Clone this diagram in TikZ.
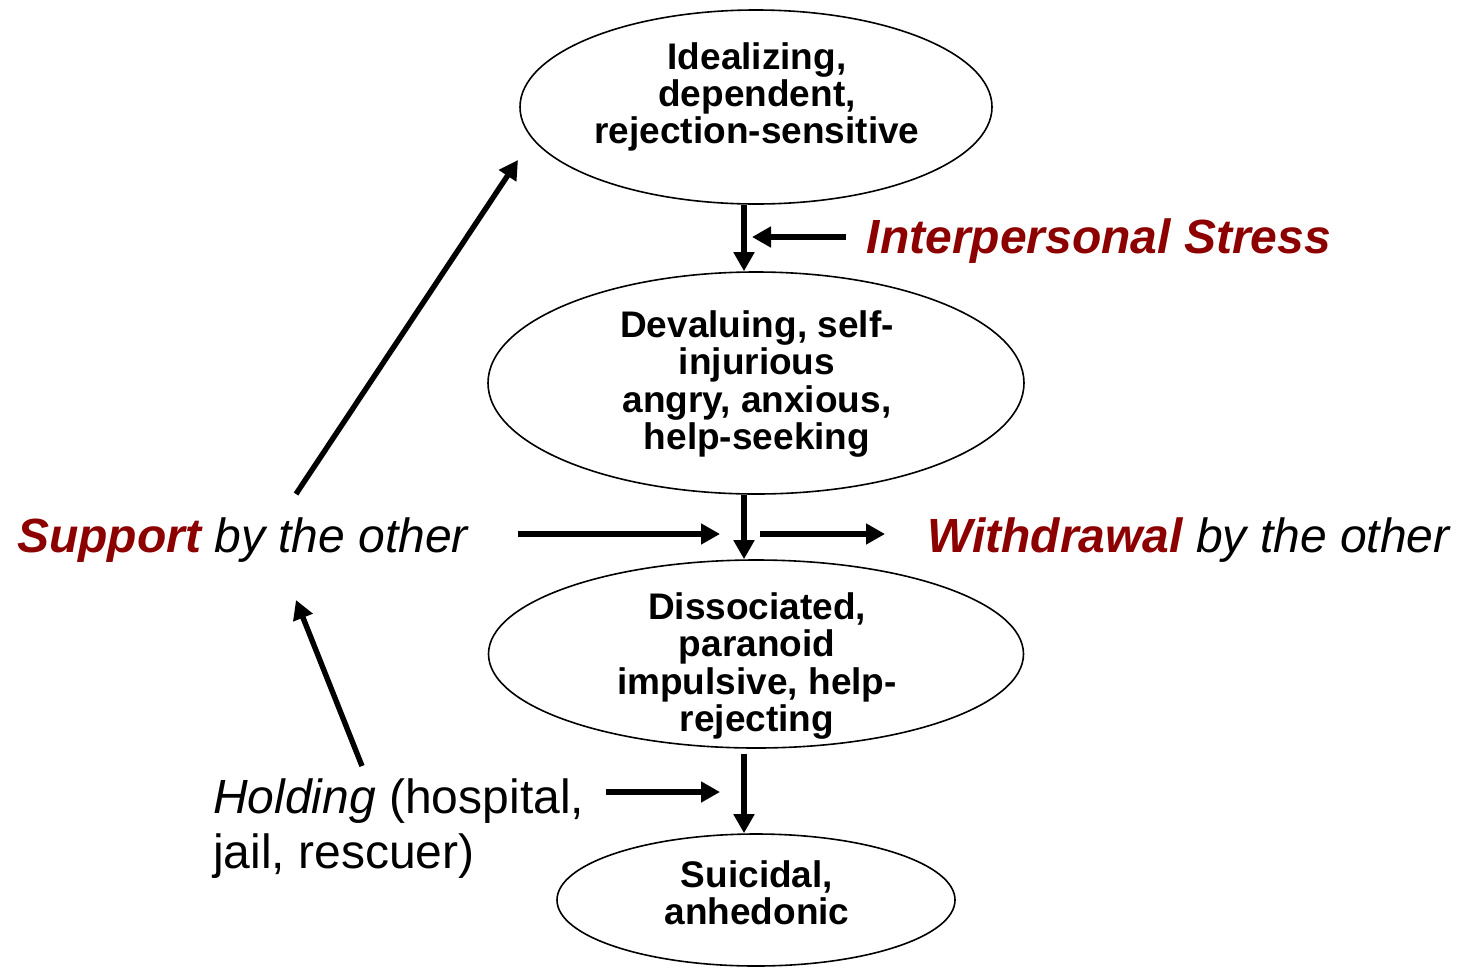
\documentclass[tikz,border=0pt]{standalone}
\usepackage{fontspec}
\setmainfont{Liberation Sans}
\usetikzlibrary{arrows.meta,shapes.geometric}
\definecolor{dred}{RGB}{140,0,0}
\begin{document}
\begin{tikzpicture}[x=1pt,y=-1pt,
  ell/.style={draw=black,line width=1.6pt,ellipse,inner sep=0pt},
  etext/.style={align=center,font=\fontsize{37}{37.3}\selectfont\bfseries,inner sep=0pt},
  side/.style={inner sep=0pt,font=\fontsize{48}{55}\selectfont},
  arr/.style={line width=5.4pt,-{Triangle[length=19pt,width=20pt]}}]
\useasboundingbox (0,0) rectangle (1459,967);
% ellipses
\node[ell,minimum width=472pt,minimum height=194pt] (e1) at (756,107) {};
\node[ell,minimum width=536pt,minimum height=222pt] (e2) at (756,383) {};
\node[ell,minimum width=535pt,minimum height=188pt] (e3) at (756,654) {};
\node[ell,minimum width=398pt,minimum height=132pt] (e4) at (756,900) {};
% ellipse texts
\node[etext] (t1) at (757,97) {Idealizing,\\dependent,\\rejection-sensitive};
\node[etext] (t2) at (757,384) {Devaluing, self-\\injurious\\angry, anxious,\\help-seeking};
\node[etext] (t3) at (757,666) {Dissociated,\\paranoid\\impulsive, help-\\rejecting};
\node[etext] (t4) at (757,893) {Suicidal,\\anhedonic};
% side labels
\node[side,anchor=center,text=dred,font=\fontsize{48}{55}\selectfont\bfseries\itshape] (stress) at (1099,241) {Interpersonal Stress};
\node[side,anchor=west] (support) at (17,540) {\textcolor{dred}{\bfseries\itshape Support}\itshape\ by the other};
\node[side,anchor=west] (withdraw) at (927,540) {\textcolor{dred}{\bfseries\itshape Withdrawal}\itshape\ by the other};
\node[side,anchor=north west,align=left] (holding) at (213,779) {\textit{Holding} (hospital,\\jail, rescuer)};
% coordinates
\coordinate (sIn) at (846,237);
\coordinate (sOut) at (752,237);
\coordinate (supA) at (518,534);
\coordinate (supB) at (720,534);
\coordinate (wA) at (760,534);
\coordinate (wB) at (885,534);
\coordinate (hA) at (606,792);
\coordinate (hB) at (720,792);
\coordinate (dA) at (296,494);
\coordinate (dB) at (518,160);
\coordinate (uA) at (362,766);
\coordinate (uB) at (296,600);
% arrows
\draw[arr] ([xshift=-12pt]e1.south) -- ([xshift=-12pt]e2.north);
\draw[arr] ([xshift=-12pt]e2.south) -- ([xshift=-12pt]e3.north);
\draw[arr] ([xshift=-12pt,yshift=-5pt]e3.south) -- ([xshift=-12pt]e4.north);
\draw[arr] (sIn) -- (sOut);
\draw[arr] (supA) -- (supB);
\draw[arr] (wA) -- (wB);
\draw[arr] (hA) -- (hB);
\draw[arr] (dA) -- (dB);
\draw[arr] (uA) -- (uB);
\end{tikzpicture}
\end{document}
